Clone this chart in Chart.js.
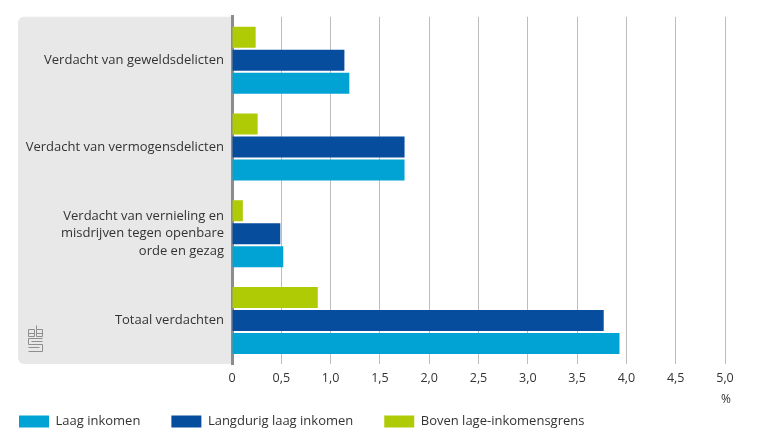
<!DOCTYPE html>
<html>
<head>
    <title>Verdachten naar inkomen</title>
    <script src="https://cdn.jsdelivr.net/npm/chart.js"></script>
    <style>
        body { margin: 0; background: #fff; }
        #wrap { width: 770px; height: 436px; position: relative; }
    </style>
</head>
<body>
    <div id="wrap"><canvas id="chart"></canvas></div>
    <script>
        // data (%)
        const categories = [
            'Verdacht van geweldsdelicten',
            'Verdacht van vermogensdelicten',
            ['Verdacht van vernieling en', 'misdrijven tegen openbare', 'orde en gezag'],
            'Totaal verdachten'
        ];
        const boven = [0.24, 0.26, 0.11, 0.87];
        const langdurig = [1.14, 1.75, 0.49, 3.77];
        const laag = [1.19, 1.75, 0.52, 3.93];

        const xMin = 0;
        const xMax = 5;
        const xStep = 0.5;

        const fontFamily = '"Open Sans", "DejaVu Sans", sans-serif';
        const textColor = '#333333';

        // grey panel behind the category labels + cbs logo + % unit
        const panelPlugin = {
            id: 'panel',
            beforeDraw(chart) {
                const ctx = chart.ctx;
                const a = chart.chartArea;
                const left = 18, r = 6;
                ctx.save();
                ctx.fillStyle = '#e8e8e8';
                ctx.beginPath();
                ctx.moveTo(a.left, a.top);
                ctx.lineTo(left + r, a.top);
                ctx.arcTo(left, a.top, left, a.top + r, r);
                ctx.lineTo(left, a.bottom - r);
                ctx.arcTo(left, a.bottom, left + r, a.bottom, r);
                ctx.lineTo(a.left, a.bottom);
                ctx.closePath();
                ctx.fill();

                // small cbs logo
                const lx = left + 10, ly = a.bottom - 39;
                ctx.strokeStyle = '#8f8f8f';
                ctx.lineWidth = 1;
                ctx.beginPath();
                ctx.rect(lx + 0.5, ly + 4.5, 6, 7);
                ctx.moveTo(lx + 0.5, ly + 8.5); ctx.lineTo(lx + 6.5, ly + 8.5);
                ctx.rect(lx + 8.5, ly + 4.5, 6, 7);
                ctx.moveTo(lx + 8.5, ly + 0.5); ctx.lineTo(lx + 8.5, ly + 4.5);
                ctx.moveTo(lx + 8.5, ly + 8.5); ctx.lineTo(lx + 14.5, ly + 8.5);
                ctx.stroke();
                ctx.beginPath();
                ctx.moveTo(lx + 14.5, ly + 13.5);
                ctx.lineTo(lx + 0.5, ly + 13.5);
                ctx.lineTo(lx + 0.5, ly + 19.5);
                ctx.lineTo(lx + 14.5, ly + 19.5);
                ctx.lineTo(lx + 14.5, ly + 26.5);
                ctx.lineTo(lx + 0.5, ly + 26.5);
                ctx.moveTo(lx + 14.5, ly + 16.5);
                ctx.lineTo(lx + 3.5, ly + 16.5);
                ctx.moveTo(lx + 0.5, ly + 22.5);
                ctx.lineTo(lx + 11.5, ly + 22.5);
                ctx.stroke();
                ctx.restore();
            },
            afterLayout(chart) {
                // pull the legend to the left edge of the grey panel
                chart.legend.left -= 12;
                chart.legend.top -= 4;
            },
            afterDraw(chart) {
                const ctx = chart.ctx;
                const x = chart.scales.x.getPixelForValue(xMax);
                ctx.save();
                ctx.fillStyle = textColor;
                ctx.font = '12px ' + fontFamily;
                ctx.textAlign = 'center';
                ctx.textBaseline = 'middle';
                ctx.fillText('%', x + 1, 400);
                ctx.restore();
            }
        };

        new Chart(document.getElementById('chart'), {
            type: 'bar',
            data: {
                labels: categories,
                datasets: [
                    { label: 'Boven lage-inkomensgrens', data: boven, backgroundColor: '#afcb05' },
                    { label: 'Langdurig laag inkomen', data: langdurig, backgroundColor: '#074d9e' },
                    { label: 'Laag inkomen', data: laag, backgroundColor: '#00a3d4' }
                ]
            },
            options: {
                indexAxis: 'y',
                responsive: true,
                maintainAspectRatio: false,
                animation: false,
                categoryPercentage: 0.795,
                barPercentage: 0.913,
                layout: { padding: { top: 16, right: 45, bottom: 0, left: 0 } },
                plugins: {
                    tooltip: { enabled: false },
                    legend: {
                        position: 'bottom',
                        align: 'start',
                        reverse: true,
                        maxHeight: 48,
                        labels: {
                            boxWidth: 30,
                            boxHeight: 12,
                            padding: 31,
                            color: textColor,
                            font: { family: fontFamily, size: 13 }
                        }
                    }
                },
                scales: {
                    x: {
                        min: xMin,
                        max: xMax,
                        afterFit(scale) { scale.height = 24; },
                        ticks: {
                            stepSize: xStep,
                            padding: 7,
                            color: textColor,
                            font: { family: fontFamily, size: 12.5 },
                            callback: v => v === 0 ? '0' : v.toFixed(1).replace('.', ',')
                        },
                        grid: {
                            drawTicks: false,
                            color: c => c.tick && c.tick.value === 0 ? 'transparent' : '#bdbdbd',
                            lineWidth: 1
                        },
                        border: { display: false }
                    },
                    y: {
                        afterFit(scale) { scale.width = 232; },
                        ticks: {
                            padding: 8,
                            color: textColor,
                            font: { family: fontFamily, size: 13, lineHeight: 1.35 }
                        },
                        grid: { display: true, color: 'transparent', drawTicks: false },
                        border: { display: true, color: '#8c8c8c', width: 3 }
                    }
                }
            },
            plugins: [panelPlugin]
        });
    </script>
</body>
</html>
